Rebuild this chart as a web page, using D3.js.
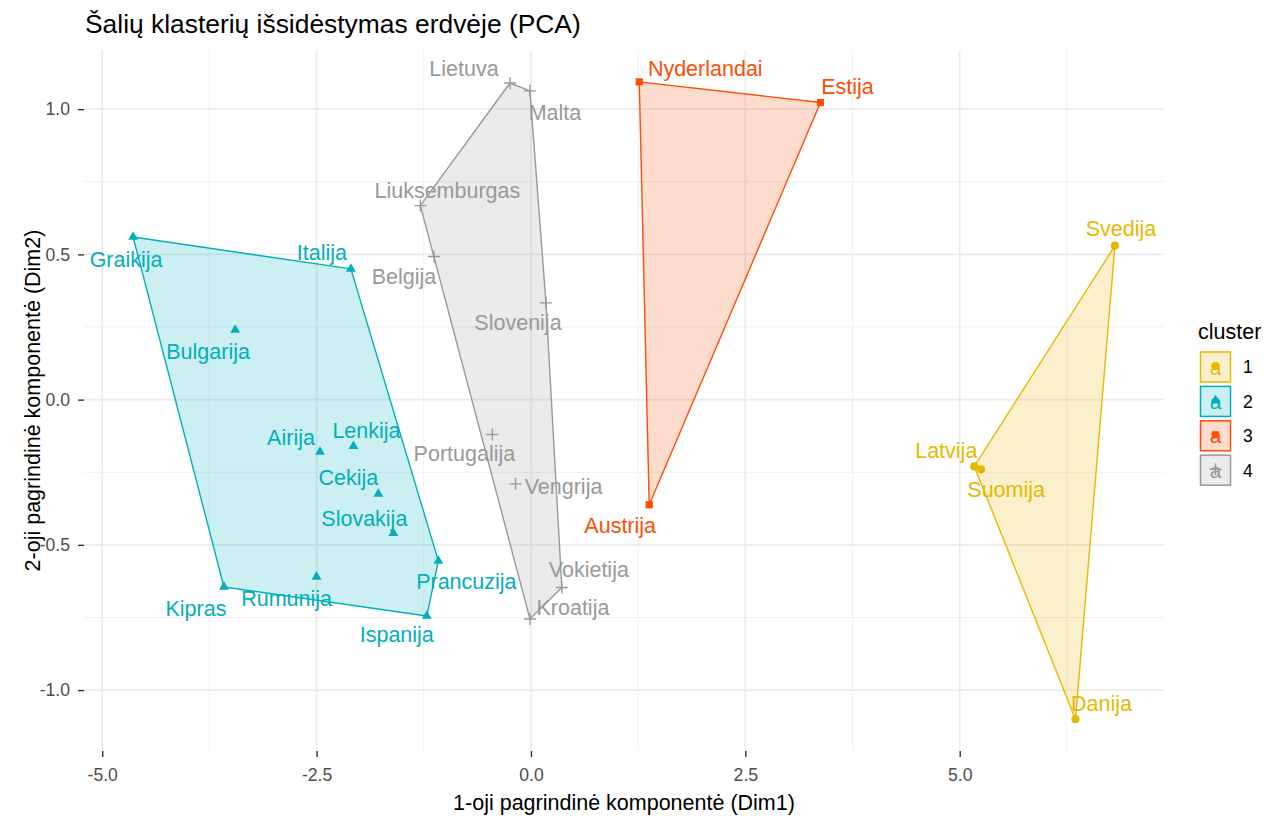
<html>
<head>
    <meta charset="UTF-8">
    <title>PCA klasteriai</title>
    <script src="https://cdnjs.cloudflare.com/ajax/libs/d3/7.8.5/d3.min.js"></script>
    <style>
        body { margin: 0; background: #fff; }
        svg text { font-family: "Liberation Sans", Arial, sans-serif; }
    </style>
</head>
<body>
<svg id="chart" width="1280" height="816"></svg>
<script>
    // country names, PCA coordinates and cluster membership
    var countries = ["Svedija", "Latvija", "Suomija", "Danija",
        "Graikija", "Italija", "Bulgarija", "Airija", "Lenkija", "Cekija", "Slovakija", "Prancuzija", "Rumunija", "Kipras", "Ispanija",
        "Nyderlandai", "Estija", "Austrija",
        "Lietuva", "Malta", "Liuksemburgas", "Belgija", "Slovenija", "Portugalija", "Vengrija", "Vokietija", "Kroatija"];
    var dim1 = [6.81, 5.17, 5.25, 6.35,
        -4.64, -2.10, -3.45, -2.46, -2.07, -1.78, -1.605, -1.08, -2.50, -3.58, -1.215,
        1.263, 3.376, 1.379,
        -0.245, -0.012, -1.29, -1.13, 0.175, -0.45, -0.18, 0.36, -0.012];
    var dim2 = [0.53, -0.23, -0.24, -1.10,
        0.56, 0.45, 0.24, -0.18, -0.16, -0.325, -0.46, -0.555, -0.61, -0.645, -0.745,
        1.094, 1.023, -0.362,
        1.09, 1.063, 0.668, 0.493, 0.333, -0.12, -0.29, -0.647, -0.755];
    var cluster = [1, 1, 1, 1,
        2, 2, 2, 2, 2, 2, 2, 2, 2, 2, 2,
        3, 3, 3,
        4, 4, 4, 4, 4, 4, 4, 4, 4];
    var clusterIds = [1, 2, 3, 4];
    var xTicks = [-5, -2.5, 0, 2.5, 5];
    var yTicks = [-1, -0.5, 0, 0.5, 1];

    var colors = { 1: "#E7B800", 2: "#00AFBB", 3: "#FC4E07", 4: "#999999" };
    var shapes = { 1: "circle", 2: "triangle", 3: "square", 4: "plus" };

    // where the repelled labels ended up, pixels from their point
    var labelOffset = {
        Svedija: [6, -17], Latvija: [-28, -15], Suomija: [25, 21], Danija: [26, -15],
        Graikija: [-7, 23], Italija: [-29, -16], Bulgarija: [-27, 22], Airija: [-29, -14],
        Lenkija: [13, -15], Cekija: [-30, -16], Slovakija: [-29, -14], Prancuzija: [28, 21],
        Rumunija: [-30, 22], Kipras: [-28, 22], Ispanija: [-30, 19],
        Nyderlandai: [66, -13], Estija: [27, -15], Austrija: [-29, 21],
        Lietuva: [-46, -14], Malta: [25, 22], Liuksemburgas: [27, -14], Belgija: [-30, 21],
        Slovenija: [-28, 20], Portugalija: [-28, 20], Vengrija: [48, 3], Vokietija: [27, -17],
        Kroatija: [43, -11]
    };

    var data = countries.map((c, i) => ({ name: c, x: dim1[i], y: dim2[i], cl: cluster[i] }));

    var margin = { left: 84, right: 1164, top: 50, bottom: 751 };
    var svg = d3.select("#chart");

    // ggplot style 5% expansion
    function expand(ext) {
        var r = ext[1] - ext[0];
        return [ext[0] - r * 0.05, ext[1] + r * 0.05];
    }
    var x = d3.scaleLinear().domain(expand(d3.extent(dim1))).range([margin.left, margin.right]);
    var y = d3.scaleLinear().domain(expand(d3.extent(dim2))).range([margin.bottom, margin.top]);

    // grid
    var grid = svg.append("g");
    var xMinor = xTicks.map(t => t + 1.25).concat([xTicks[0] - 1.25]).filter(t => t > x.domain()[0] && t < x.domain()[1]);
    var yMinor = yTicks.map(t => t + 0.25).concat([yTicks[0] - 0.25]).filter(t => t > y.domain()[0] && t < y.domain()[1]);
    grid.selectAll("line.xminor").data(xMinor).enter().append("line")
        .attr("x1", d => x(d)).attr("x2", d => x(d)).attr("y1", margin.top).attr("y2", margin.bottom)
        .style("stroke", "#f0f0f0").style("stroke-width", 1);
    grid.selectAll("line.yminor").data(yMinor).enter().append("line")
        .attr("y1", d => y(d)).attr("y2", d => y(d)).attr("x1", margin.left).attr("x2", margin.right)
        .style("stroke", "#f0f0f0").style("stroke-width", 1);
    grid.selectAll("line.xmajor").data(xTicks).enter().append("line")
        .attr("x1", d => x(d)).attr("x2", d => x(d)).attr("y1", margin.top).attr("y2", margin.bottom)
        .style("stroke", "#ebebeb").style("stroke-width", 1.6);
    grid.selectAll("line.ymajor").data(yTicks).enter().append("line")
        .attr("y1", d => y(d)).attr("y2", d => y(d)).attr("x1", margin.left).attr("x2", margin.right)
        .style("stroke", "#ebebeb").style("stroke-width", 1.6);

    // axes
    var fmt = d => d.toFixed(1);
    var xAxis = svg.append("g").attr("transform", `translate(0,${margin.bottom})`)
        .call(d3.axisBottom(x).tickValues(xTicks).tickFormat(fmt).tickSize(6).tickPadding(12));
    var yAxis = svg.append("g").attr("transform", `translate(${margin.left},0)`)
        .call(d3.axisLeft(y).tickValues(yTicks).tickFormat(fmt).tickSize(6).tickPadding(8));
    [xAxis, yAxis].forEach(a => {
        a.select(".domain").remove();
        a.selectAll(".tick line").style("stroke", "#333").style("stroke-width", 1.4);
        a.selectAll(".tick text").style("fill", "#4d4d4d").style("font-size", "17.6px")
            .style("font-family", "Liberation Sans, Arial, sans-serif");
    });

    // hulls
    var hulls = svg.append("g");
    clusterIds.forEach(k => {
        var pts = data.filter(d => d.cl === k).map(d => [x(d.x), y(d.y)]);
        var hull = d3.polygonHull(pts);
        hulls.append("path")
            .attr("d", "M" + hull.join("L") + "Z")
            .style("fill", colors[k]).style("fill-opacity", 0.2)
            .style("stroke", colors[k]).style("stroke-width", 1.4)
            .style("stroke-linejoin", "round");
    });

    function drawShape(g, k, cx, cy) {
        var s = shapes[k];
        if (s === "plus") {
            g.append("path").attr("d", `M${cx - 6},${cy}H${cx + 6}M${cx},${cy - 6}V${cy + 6}`)
                .style("stroke", colors[k]).style("stroke-width", 1.4).style("fill", "none");
        } else {
            var type = s === "circle" ? d3.symbolCircle : s === "triangle" ? d3.symbolTriangle : d3.symbolSquare;
            var size = s === "circle" ? 52 : s === "triangle" ? 42 : 52;
            g.append("path").attr("d", d3.symbol().type(type).size(size)())
                .attr("transform", `translate(${cx},${cy})`)
                .style("fill", colors[k]);
        }
    }

    // points
    var pts = svg.append("g");
    data.forEach(d => drawShape(pts, d.cl, x(d.x), y(d.y)));

    // labels
    svg.append("g").selectAll("text").data(data).enter().append("text")
        .attr("x", d => x(d.x) + labelOffset[d.name][0])
        .attr("y", d => y(d.y) + labelOffset[d.name][1])
        .attr("dy", "0.32em")
        .style("text-anchor", "middle")
        .style("font-size", "21.5px")
        .style("fill", d => colors[d.cl])
        .text(d => d.name);

    // titles
    svg.append("text").attr("x", margin.left + 1).attr("y", 33)
        .style("font-size", "26.4px").style("fill", "#000")
        .text("Šalių klasterių išsidėstymas erdvėje (PCA)");
    svg.append("text").attr("x", (margin.left + margin.right) / 2).attr("y", 810)
        .style("text-anchor", "middle").style("font-size", "21.5px").style("fill", "#000")
        .text("1-oji pagrindinė komponentė (Dim1)");
    svg.append("text")
        .attr("transform", `translate(40,${(margin.top + margin.bottom) / 2}) rotate(-90)`)
        .style("text-anchor", "middle").style("font-size", "21.5px").style("fill", "#000")
        .text("2-oji pagrindinė komponentė (Dim2)");

    // legend
    var legend = svg.append("g").attr("transform", "translate(1198,0)");
    legend.append("text").attr("x", 0).attr("y", 339)
        .style("font-size", "21.5px").style("fill", "#000").text("cluster");
    clusterIds.forEach((k, i) => {
        var top = 352 + i * 34.4;
        var key = legend.append("g");
        key.append("rect").attr("x", 2.5).attr("y", top).attr("width", 30).attr("height", 30)
            .style("fill", colors[k]).style("fill-opacity", 0.2)
            .style("stroke", colors[k]).style("stroke-width", 1.5);
        key.append("text").attr("x", 17.5).attr("y", top + 15).attr("dy", "0.36em")
            .style("text-anchor", "middle").style("font-size", "21px").style("fill", colors[k]).text("a");
        drawShape(key, k, 17.5, top + 14);
        legend.append("text").attr("x", 45).attr("y", top + 15).attr("dy", "0.36em")
            .style("font-size", "17.6px").style("fill", "#000").text(k);
    });
</script>
</body>
</html>
